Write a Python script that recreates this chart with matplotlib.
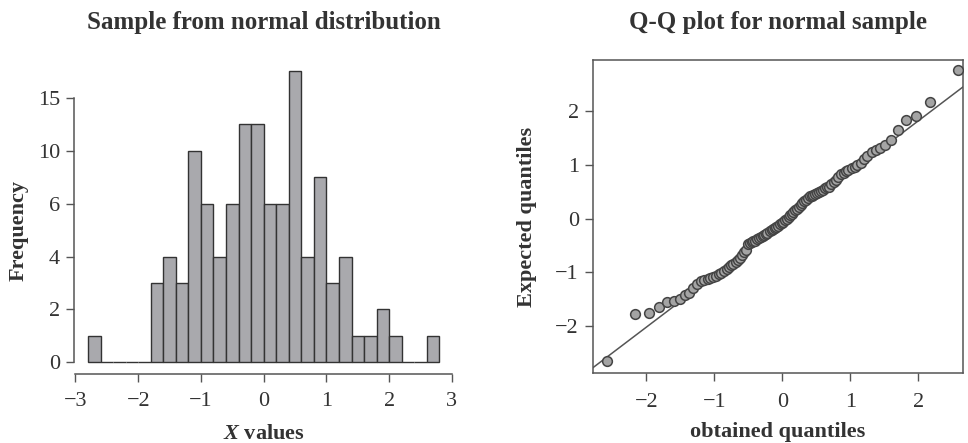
"""
Histogramme + diagramme Q-Q d'un échantillon normal (n = 100).
Sortie : out.png (968 x 443 px)
"""

import matplotlib
matplotlib.use("Agg")
import matplotlib.pyplot as plt
import numpy as np

# --- Données -----------------------------------------------------------------

# Échantillon trié (100 valeurs) — estimé à partir du diagramme Q-Q / histogramme
SAMPLE_SORTED = [
    -2.65, -1.78, -1.75, -1.64, -1.56, -1.54, -1.50, -1.42, -1.38, -1.30,
    -1.22, -1.16, -1.14, -1.13, -1.10, -1.08, -1.06, -1.04, -1.01, -0.97,
    -0.93, -0.90, -0.87, -0.84, -0.81, -0.77, -0.73, -0.68, -0.62, -0.58,
    -0.47, -0.45, -0.44, -0.42, -0.41, -0.39, -0.37, -0.35, -0.33, -0.31,
    -0.28, -0.26, -0.24, -0.21, -0.19, -0.17, -0.15, -0.13, -0.10, -0.08,
    -0.06, -0.03, -0.01, 0.03, 0.06, 0.09, 0.12, 0.15, 0.18, 0.22,
    0.25, 0.28, 0.32, 0.35, 0.38, 0.41, 0.42, 0.44, 0.46, 0.48,
    0.50, 0.52, 0.54, 0.56, 0.58, 0.59, 0.64, 0.68, 0.72, 0.77,
    0.82, 0.85, 0.88, 0.91, 0.94, 0.96, 0.99, 1.04, 1.10, 1.16,
    1.24, 1.28, 1.32, 1.37, 1.47, 1.64, 1.83, 1.91, 2.17, 2.76,
]

# Quantiles théoriques de la loi normale (axe horizontal du Q-Q plot)
THEO_QUANTILES = [
    -2.58, -2.17, -1.96, -1.81, -1.70, -1.60, -1.51, -1.44, -1.37, -1.31,
    -1.25, -1.20, -1.15, -1.10, -1.06, -1.02, -0.97, -0.94, -0.90, -0.86,
    -0.82, -0.79, -0.76, -0.72, -0.69, -0.66, -0.63, -0.60, -0.57, -0.54,
    -0.51, -0.48, -0.45, -0.43, -0.40, -0.37, -0.35, -0.32, -0.29, -0.27,
    -0.24, -0.22, -0.19, -0.16, -0.14, -0.11, -0.09, -0.06, -0.04, -0.01,
    0.01, 0.04, 0.06, 0.09, 0.11, 0.14, 0.16, 0.19, 0.22, 0.24,
    0.27, 0.29, 0.32, 0.35, 0.37, 0.40, 0.43, 0.45, 0.48, 0.51,
    0.54, 0.57, 0.60, 0.63, 0.66, 0.69, 0.72, 0.76, 0.79, 0.82,
    0.86, 0.90, 0.94, 0.97, 1.02, 1.06, 1.10, 1.15, 1.20, 1.25,
    1.31, 1.37, 1.44, 1.51, 1.60, 1.70, 1.81, 1.96, 2.17, 2.58,
]

# Droite de référence (qqline)
QQLINE_INTERCEPT = -0.10
QQLINE_SLOPE = 0.96

# Graduations
HIST_XTICKS = [-3, -2, -1, 0, 1, 2, 3]
HIST_YTICKS = [0, 2, 4, 6, 8, 10]
HIST_YTICK_LABELS = ["0", "2", "4", "6", "10", "15"]   # tel qu'imprimé sur la figure
QQ_TICKS = [-2, -1, 0, 1, 2]

# --- Style --------------------------------------------------------------------
TEXT_COL = "#333333"
plt.rcParams["font.family"] = ["Liberation Serif", "DejaVu Serif"]
plt.rcParams["mathtext.fontset"] = "custom"
plt.rcParams["mathtext.it"] = "Liberation Serif:italic:bold"
plt.rcParams["mathtext.rm"] = "Liberation Serif:bold"
plt.rcParams["axes.unicode_minus"] = True

fig = plt.figure(figsize=(9.68, 4.43), dpi=100)

# =============================================================================
# Histogramme
# =============================================================================
ax1 = fig.add_axes([0.0764, 0.1558, 0.392, 0.7094])
bins = np.round(np.linspace(-2.8, 2.8, 29), 1)
ax1.hist(SAMPLE_SORTED, bins=bins, color="#a9a9ad", edgecolor="#333333", linewidth=1.0)

ax1.set_xlim(-3.024, 3.024)
ax1.set_ylim(-0.44, 11.44)
ax1.spines["top"].set_visible(False)
ax1.spines["right"].set_visible(False)
ax1.spines["left"].set_bounds(0, 10)
ax1.spines["bottom"].set_bounds(-3, 3)
for s in ("left", "bottom"):
    ax1.spines[s].set_color("#555555")
    ax1.spines[s].set_linewidth(1.1)

ax1.set_xticks(HIST_XTICKS)
ax1.set_yticks(HIST_YTICKS)
ax1.set_yticklabels(HIST_YTICK_LABELS)
ax1.tick_params(colors="#555555", labelcolor=TEXT_COL, labelsize=16, length=6, width=1.0, pad=4)
ax1.tick_params(axis="x", pad=7)

ax1.set_title("Sample from normal distribution", fontsize=18, fontweight="bold",
              color=TEXT_COL, pad=22)
ax1.set_xlabel("$X$ values", fontsize=16, fontweight="bold", color=TEXT_COL)
ax1.set_ylabel("Frequency", fontsize=16, fontweight="bold", color=TEXT_COL)
ax1.xaxis.set_label_coords(0.5, -0.16)
ax1.yaxis.set_label_coords(-0.12, 0.458)

# =============================================================================
# Diagramme Q-Q
# =============================================================================
ax2 = fig.add_axes([0.6123, 0.1573, 0.3829, 0.7073])
ax2.axline((0, QQLINE_INTERCEPT), slope=QQLINE_SLOPE, color="#555555", linewidth=1.1, zorder=2)
ax2.plot(THEO_QUANTILES, SAMPLE_SORTED, linestyle="none", marker="o", markersize=7,
         markerfacecolor="#a4a4a4", markeredgecolor="#444444", markeredgewidth=1.1, zorder=3)

ax2.set_xlim(-2.79, 2.66)
ax2.set_ylim(-2.88, 2.95)
for s in ax2.spines.values():
    s.set_color("#555555")
    s.set_linewidth(1.1)

ax2.set_xticks(QQ_TICKS)
ax2.set_yticks(QQ_TICKS)
ax2.tick_params(colors="#555555", labelcolor=TEXT_COL, labelsize=16, length=6, width=1.0, pad=4)
ax2.tick_params(axis="x", pad=8)

ax2.set_title("Q-Q plot for normal sample", fontsize=18, fontweight="bold",
              color=TEXT_COL, pad=22)
ax2.set_xlabel("obtained quantiles", fontsize=16, fontweight="bold", color=TEXT_COL)
ax2.set_ylabel("Expected quantiles", fontsize=16, fontweight="bold", color=TEXT_COL)
ax2.xaxis.set_label_coords(0.5, -0.155)
ax2.yaxis.set_label_coords(-0.15, 0.5)

fig.savefig("out.png", dpi=100)
